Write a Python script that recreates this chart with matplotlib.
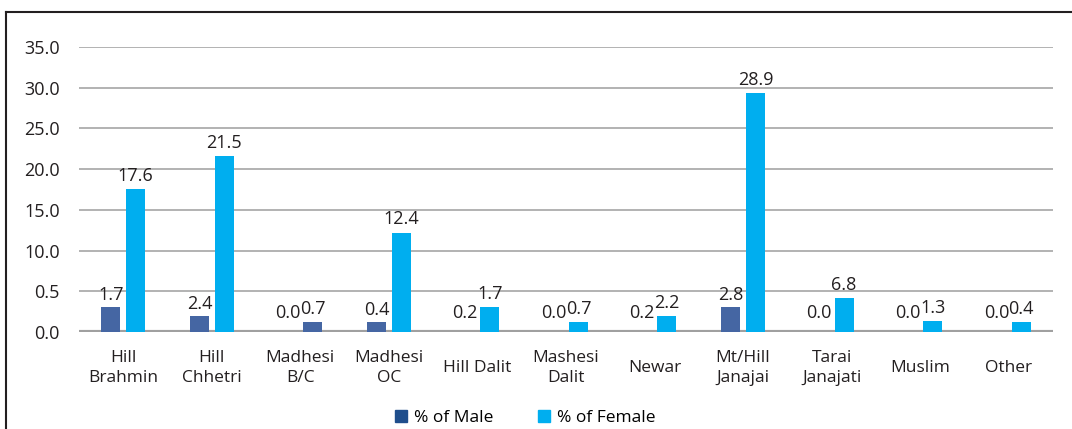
import numpy as np
import matplotlib.pyplot as plt
from matplotlib.lines import Line2D

plt.rcParams['font.family'] = ['Open Sans', 'DejaVu Sans']

# categories and values as they appear in the chart
groups = ['Hill\nBrahmin', 'Hill\nChhetri', 'Madhesi\nB/C', 'Madhesi\nOC', 'Hill Dalit',
          'Mashesi\nDalit', 'Newar', 'Mt/Hill\nJanajai', 'Tarai\nJanajati', 'Muslim', 'Other']
# bar heights as drawn against the gridlines
male_bars = [3.1, 2.0, 0, 1.2, 0, 0, 0, 3.1, 0, 0, 0]
female_bars = [17.6, 21.6, 1.2, 12.2, 3.1, 1.2, 2.0, 29.3, 4.2, 1.3, 1.2]
# printed data labels
male_labels = ['1.7', '2.4', '0.0', '0.4', '0.2', '0.0', '0.2', '2.8', '0.0', '0.0', '0.0']
female_labels = ['17.6', '21.5', '0.7', '12.4', '1.7', '0.7', '2.2', '28.9', '6.8', '1.3', '0.4']
y_ticks = [0, 5, 10, 15, 20, 25, 30, 35]
y_tick_labels = ['0.0', '0.5', '10.0', '15.0', '20.0', '25.0', '30.0', '35.0']

male_col = '#4566a3'
female_col = '#00aeef'
female_colors = [female_col] * len(groups)
female_colors[2] = male_col  # that bar is drawn dark in the original

fig = plt.figure(figsize=(10.72, 4.29), dpi=100)
ax = fig.add_axes([0.0737, 0.2261, 0.9086, 0.6643])

x = np.arange(len(groups))
w = 0.215
off = 0.14
ax.bar(x - off, male_bars, w, color=male_col, zorder=3)
ax.bar(x + off, female_bars, w, color=female_colors, zorder=3)

for i in range(len(groups)):
    ym = male_bars[i] if male_bars[i] > 0 else 0.9
    ax.annotate(male_labels[i], (x[i] - off, ym), xytext=(0, 2), textcoords='offset points',
                ha='center', va='bottom', fontsize=13, color='#231f20')
    ax.annotate(female_labels[i], (x[i] + off, female_bars[i]), xytext=(0, 3), textcoords='offset points',
                ha='center', va='bottom', fontsize=13, color='#231f20')

ax.set_ylim(0, 35)
ax.set_xlim(-0.5, len(groups) - 0.5)
ax.set_yticks(y_ticks)
ax.set_yticklabels(y_tick_labels, fontsize=13, color='#231f20')
ax.set_xticks(x)
ax.set_xticklabels(groups, fontsize=12.5, color='#231f20', linespacing=1.35)
for lab in ax.get_xticklabels():
    lab.set_va('center')
ax.tick_params(axis='x', length=0, pad=26)
ax.tick_params(axis='y', length=0, pad=14)
ax.yaxis.grid(True, color='#a6a6a6', lw=1.2, zorder=0)
for s in ax.spines.values():
    s.set_visible(False)
ax.axhline(0, color='#a0a0a0', lw=3, zorder=2)

handles = [plt.Rectangle((0, 0), 1, 1, color='#1f4e8c'), plt.Rectangle((0, 0), 1, 1, color=female_col)]
fig.legend(handles, ['% of Male', '% of Female'], loc='center', bbox_to_anchor=(0.49, 0.026),
           ncol=2, frameon=False, fontsize=12.5, handlelength=0.7, handleheight=0.7,
           handletextpad=0.4, columnspacing=2.6)

# outer frame (cut off at right and bottom)
fig.add_artist(Line2D([0.0056, 0.0056], [0, 0.972], color='#231f20', lw=1.5, transform=fig.transFigure))
fig.add_artist(Line2D([0.0056, 1], [0.972, 0.972], color='#231f20', lw=1.5, transform=fig.transFigure))

fig.savefig('out.png', dpi=100)
